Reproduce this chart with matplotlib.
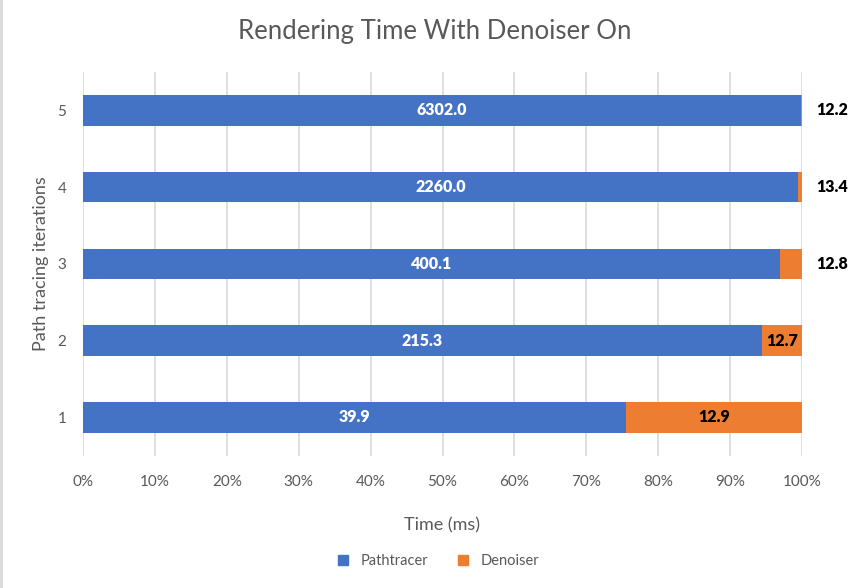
import matplotlib
matplotlib.use("Agg")
import matplotlib.pyplot as plt
from matplotlib.ticker import PercentFormatter
from matplotlib.lines import Line2D
import numpy as np

iterations = ["1", "2", "3", "4", "5"]
pathtracer = [39.9, 215.3, 400.1, 2260.0, 6302.0]
denoiser = [12.9, 12.7, 12.8, 13.4, 12.2]
series_names = ["Pathtracer", "Denoiser"]
colors = ["#4472C4", "#ED7D31"]
x_ticks = [0, 10, 20, 30, 40, 50, 60, 70, 80, 90, 100]

plt.rcParams['font.family'] = ['Lato', 'DejaVu Sans']
grey = "#595959"

fig = plt.figure(figsize=(8.67, 5.88), dpi=100)
ax = fig.add_axes([83/867, (588-455.7)/588, (802-83)/867, (455.7-72)/588])

pt = np.array(pathtracer)
dn = np.array(denoiser)
tot = pt + dn
pt_pct = pt / tot * 100
dn_pct = dn / tot * 100
y = np.arange(1, len(iterations) + 1)

ax.barh(y, pt_pct, height=0.4, color=colors[0], zorder=3)
ax.barh(y, dn_pct, left=pt_pct, height=0.4, color=colors[1], zorder=3)

for yi, p, v in zip(y, pt_pct, pathtracer):
    ax.text(p / 2, yi, f"{v:.1f}", ha="center", va="center", color="white",
            fontsize=11.5, fontweight="heavy", zorder=4)
for yi, p, d, v in zip(y, pt_pct, dn_pct, denoiser):
    if d > 4:
        ax.text(p + d / 2, yi, f"{v:.1f}", ha="center", va="center", color="black",
                fontsize=11.5, fontweight="heavy", zorder=4)
    else:
        ax.annotate(f"{v:.1f}", xy=(100, yi), xytext=(22, 0), textcoords="offset points",
                    ha="center", va="center", color="black", fontsize=11.5, fontweight="heavy")

ax.set_xlim(0, 100)
ax.set_ylim(0.5, 5.5)
ax.set_xticks(x_ticks)
ax.xaxis.set_major_formatter(PercentFormatter(decimals=0))
ax.set_yticks(y)
ax.set_yticklabels(iterations)
ax.grid(axis="x", color="#D9D9D9", linewidth=1.2, zorder=0)
for s in ax.spines.values():
    s.set_visible(False)
ax.tick_params(axis="both", length=0, colors=grey, labelsize=11)
ax.tick_params(axis="x", pad=14)
ax.tick_params(axis="y", pad=12)

ax.set_xlabel("Time (ms)", color=grey, fontsize=13, labelpad=20)
ax.set_ylabel("Path tracing iterations", color=grey, fontsize=13, labelpad=6)

fig.text(0.502, 1 - 32/588, "Rendering Time With Denoiser On", ha="center", va="center",
         color=grey, fontsize=18.5, fontweight="normal")

handles = [Line2D([], [], marker="s", linestyle="none", markersize=7, color=c) for c in colors]
fig.legend(handles, series_names, loc="center", bbox_to_anchor=(0.5, 1 - 561/588), ncol=2,
           frameon=False, fontsize=10.5, labelcolor=grey, handletextpad=0.2, columnspacing=1.4)

fig.add_artist(Line2D([0.001, 0.001], [0, 1], color="#D9D9D9", linewidth=2, transform=fig.transFigure))

fig.savefig("out.png", dpi=100)
